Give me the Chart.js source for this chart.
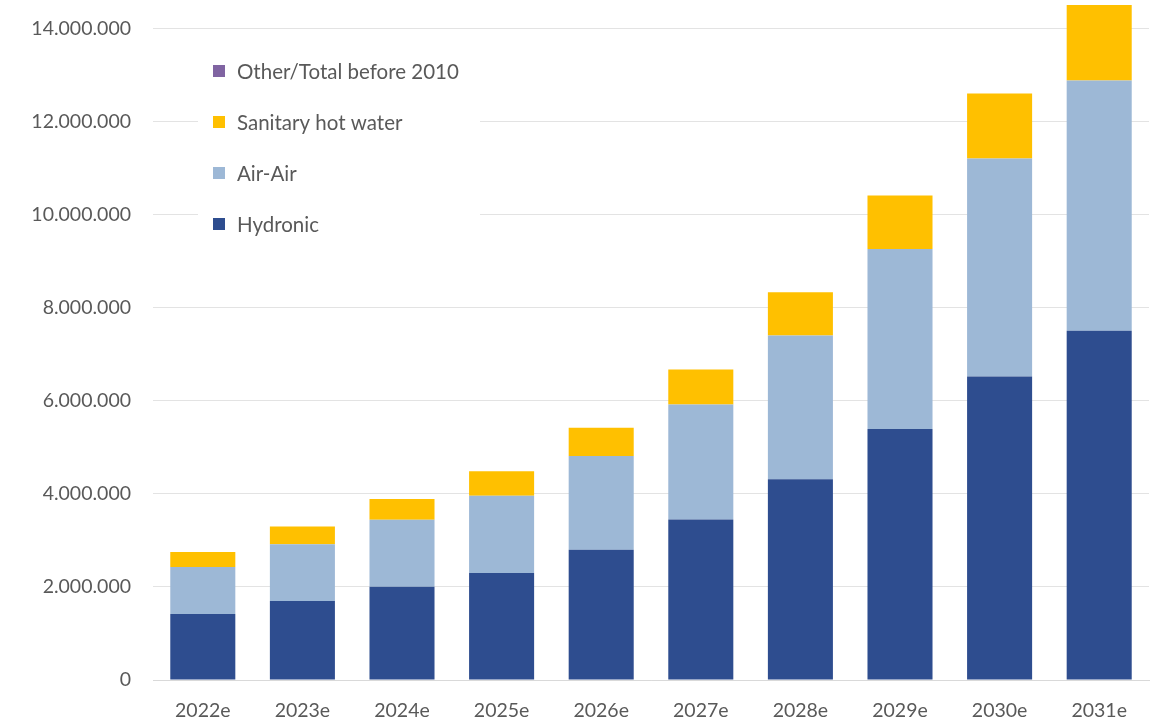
<!DOCTYPE html>
<html>
<head>
<meta charset="utf-8">
<title>Heat pump stock forecast</title>
<script src="https://cdn.jsdelivr.net/npm/chart.js"></script>
<style>
  body { margin: 0; background: #fff; }
  #wrap { width: 1165px; height: 728px; position: relative; }
</style>
</head>
<body>
<div id="wrap"><canvas id="stockChart"></canvas></div>
<script>
const years = ['2022e', '2023e', '2024e', '2025e', '2026e', '2027e', '2028e', '2029e', '2030e', '2031e'];
const hydronic = [1416000, 1695000, 2003000, 2300000, 2800000, 3450000, 4310000, 5390000, 6520000, 7500000];
const airAir = [1009000, 1223000, 1437000, 1660000, 2010000, 2470000, 3090000, 3870000, 4680000, 5380000];
const hotWater = [322000, 380000, 450000, 525000, 610000, 750000, 930000, 1150000, 1400000, 1620000];
const other = [0, 0, 0, 0, 0, 0, 0, 0, 0, 0];
const yTicks = [0, 2000000, 4000000, 6000000, 8000000, 10000000, 12000000, 14000000];

const fmt = v => String(v).replace(/\B(?=(\d{3})+(?!\d))/g, '.');
const textGray = '#595959';
const fontFamily = 'Lato, "Open Sans", sans-serif';

// legend sits inside the plot, top-left, with a white box over the gridlines
const insideLegend = {
  id: 'insideLegend',
  afterDraw(chart) {
    const ctx = chart.ctx;
    ctx.save();
    ctx.fillStyle = '#fff';
    ctx.fillRect(198, 42, 282, 206);
    ctx.font = '20.5px ' + fontFamily;
    ctx.textBaseline = 'middle';
    const items = chart.data.datasets.slice().reverse();
    items.forEach((ds, i) => {
      const y = 71 + i * 51;
      ctx.fillStyle = ds.backgroundColor;
      ctx.fillRect(213, y - 6, 12, 12);
      ctx.fillStyle = textGray;
      ctx.fillText(ds.label, 237, y + 1);
    });
    ctx.restore();
  }
};

new Chart(document.getElementById('stockChart'), {
  type: 'bar',
  data: {
    labels: years,
    datasets: [
      { label: 'Hydronic', data: hydronic, backgroundColor: '#2E4D8F' },
      { label: 'Air-Air', data: airAir, backgroundColor: '#9DB8D6' },
      { label: 'Sanitary hot water', data: hotWater, backgroundColor: '#FFC000' },
      { label: 'Other/Total before 2010', data: other, backgroundColor: '#8064A2' }
    ]
  },
  options: {
    responsive: true,
    maintainAspectRatio: false,
    animation: false,
    layout: { padding: { top: 5, right: 16, left: 0, bottom: 0 } },
    datasets: { bar: { categoryPercentage: 1, barPercentage: 0.653 } },
    plugins: { legend: { display: false }, tooltip: { enabled: false } },
    scales: {
      x: {
        stacked: true,
        grid: { display: false },
        border: { color: '#D9D9D9' },
        ticks: { color: textGray, font: { family: fontFamily, size: 19.5 }, padding: 11 },
        afterFit: s => { s.height = 48; s.paddingLeft = 0; s.paddingRight = 0; }
      },
      y: {
        stacked: true,
        min: 0,
        max: 14500000,
        border: { display: false },
        grid: { color: '#E3E3E3', drawTicks: false },
        afterBuildTicks: s => { s.ticks = yTicks.map(v => ({ value: v })); },
        afterFit: s => { s.width = 153; s.paddingTop = 0; s.paddingBottom = 0; },
        ticks: {
          color: textGray,
          font: { family: fontFamily, size: 19.5 },
          padding: 22,
          callback: v => fmt(v)
        }
      }
    }
  },
  plugins: [insideLegend]
});
</script>
</body>
</html>
